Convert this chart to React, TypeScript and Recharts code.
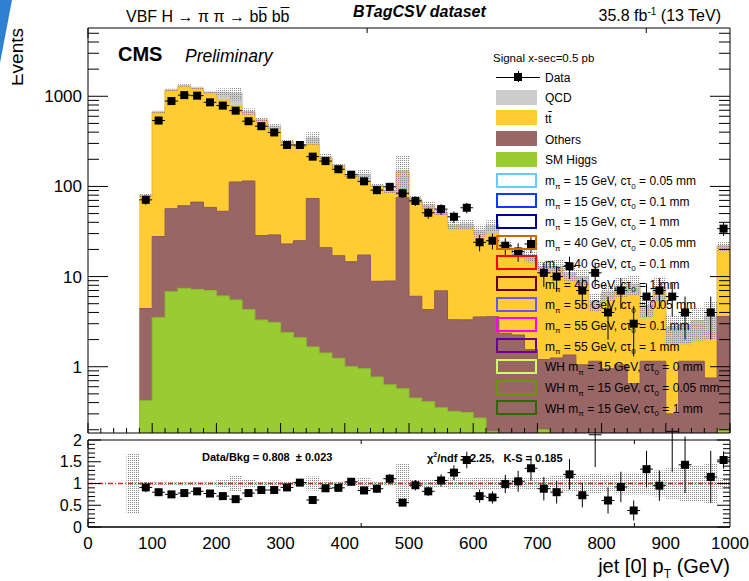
import React from 'react';
import { ComposedChart, Area, Scatter, XAxis, YAxis, ErrorBar, ReferenceLine } from 'recharts';

const FONT = '"Liberation Sans", Arial, Helvetica, sans-serif';

// jet[0] pT bins, low edge in GeV (20 GeV wide)
const binLow = [
  80, 100, 120, 140, 160, 180, 200, 220, 240, 260,
  280, 300, 320, 340, 360, 380, 400, 420, 440, 460,
  480, 500, 520, 540, 560, 580, 600, 620, 640, 660,
  680, 700, 720, 740, 760, 780, 800, 820, 840, 860,
  880, 900, 920, 940, 960, 980,
];

const dataCounts = [
  71, 538, 885, 1030, 1016, 857, 788, 693, 529, 466,
  397, 288, 288, 214, 191, 155, 135, 114, 91, 99,
  84, 69, 51, 56, 46, 58, 24, 25, 22, 19,
  23, 11, 10, 13, 7, 11, 4, 7, 3, 6,
  7, 6, 4, 0, 4, 34,
];
const dataErr = [
  8.4, 23, 30, 32, 32, 29, 28, 26, 23, 22,
  20, 17, 17, 15, 14, 12.5, 11.6, 10.7, 9.5, 9.9,
  9.2, 8.3, 7.1, 7.5, 6.8, 7.6, 4.9, 5, 4.7, 4.4,
  4.8, 3.3, 3.2, 3.6, 2.6, 3.3, 2, 2.6, 1.7, 2.4,
  2.6, 2.4, 2, 0, 2, 5.8,
];

// backgrounds, stacked bottom -> top
const higgs = [
  0.42, 3.5, 6.8, 7.4, 7.2, 7.0, 6.1, 5.5, 4.3, 3.3,
  3.1, 2.4, 2.1, 1.66, 1.42, 1.24, 1.0, 0.95, 0.77, 0.63,
  0.57, 0.45, 0.41, 0.35, 0.32, 0.31, 0.27, 0.19, 0.15, 0.15,
  0.15, 0.2, 0.15, 0.15, 0.15, 0.15, 0.15, 0.15, 0.15, 0.15,
  0.15, 0.15, 0.15, 0.15, 0.15, 0.2,
];
const others = [
  4.0, 24.3, 49.8, 53.6, 59.8, 51.5, 46.9, 106.5, 110.7, 25.2,
  25.9, 20.6, 22.9, 71.9, 19.5, 15.8, 13.6, 16.4, 8.1, 8.3,
  74.4, 5.6, 3.9, 6.6, 3.0, 3.0, 3.3, 3.4, 2.2, 2.1,
  1.4, 1.0, 1.1, 1.2, 0.9, 1.0, 0.8, 0.9, 0.5, 1.0,
  1.0, 0.15, 1.0, 1.0, 0.6, 3.4,
];
const ttbar = [
  74, 625, 1096, 1216, 1146, 1010, 855, 662, 538, 512,
  391, 285, 253, 218, 184, 146, 113, 95, 91, 78,
  70, 64, 54, 44, 33, 32, 26, 26, 18, 15,
  14, 11.3, 10.8, 8.7, 7.5, 3.7, 5.1, 5.5, 6.4, 3.1,
  5.4, 2.2, 1.5, 1.7, 1.6, 17.4,
];
const qcd = [
  1, 19, 27, 43, 26, 44, 202, 309, 25, 8,
  47, 8, 4, 53, 10, 9, 2, 24, 3, 2,
  4, 2, 4, 1, 1, 3, 3, 7, 2, 1,
  1.3, 0.5, 0.9, 0.9, 1.4, 0.4, 0.7, 1.3, 1.2, 0.5,
  1.1, 0.3, 0.3, 0.4, 1.3, 1,
];
// relative background uncertainty (hatched band)
const bkgUnc = [
  0.04, 0.03, 0.03, 0.03, 0.03, 0.03, 0.1, 0.17, 0.08, 0.06,
  0.07, 0.05, 0.05, 0.16, 0.07, 0.05, 0.04, 0.13, 0.06, 0.06,
  0.47, 0.08, 0.1, 0.08, 0.12, 0.12, 0.15, 0.15, 0.12, 0.12,
  0.15, 0.15, 0.18, 0.2, 0.2, 0.22, 0.2, 0.25, 0.25, 0.25,
  0.3, 0.35, 0.4, 0.4, 0.45, 0.12,
];
const bin60Unc = 0.7; // 60-80 GeV bin, only seen in the ratio pad

const ratio = [
  0.91, 0.80, 0.75, 0.78, 0.82, 0.77, 0.71, 0.64, 0.78, 0.85,
  0.85, 0.91, 1.02, 0.62, 0.89, 0.90, 1.04, 0.84, 0.88, 1.11,
  0.56, 0.96, 0.82, 1.07, 1.25, 1.54, 0.71, 0.68, 0.99, 1.05,
  1.35, 0.88, 0.80, 1.21, 0.73, 2.12, 0.61, 0.92, 0.38, 1.33,
  0.95, 2.2, 1.43, 0, 1.15, 1.54,
];
const ratioErr = [
  0.11, 0.035, 0.026, 0.025, 0.027, 0.027, 0.026, 0.025, 0.035, 0.04,
  0.044, 0.055, 0.06, 0.043, 0.065, 0.075, 0.09, 0.08, 0.095, 0.11,
  0.06, 0.12, 0.11, 0.14, 0.17, 0.19, 0.15, 0.14, 0.21, 0.24,
  0.29, 0.27, 0.26, 0.35, 0.28, 0.74, 0.3, 0.35, 0.23, 0.42,
  0.35, 0.93, 0.65, 0, 0.6, 0.2,
];

const xMajor = [0, 100, 200, 300, 400, 500, 600, 700, 800, 900, 1000];
const xMinor = [
  20, 40, 60, 80, 120, 140, 160, 180, 220, 240, 260, 280, 320, 340, 360, 380,
  420, 440, 460, 480, 520, 540, 560, 580, 620, 640, 660, 680, 720, 740, 760, 780,
  820, 840, 860, 880, 920, 940, 960, 980,
];
const yMajor = [1, 10, 100, 1000];
const yMinor = [
  0.2, 0.3, 0.4, 0.5, 0.6, 0.7, 0.8, 0.9, 2, 3, 4, 5, 6, 7, 8, 9,
  20, 30, 40, 50, 60, 70, 80, 90, 200, 300, 400, 500, 600, 700, 800, 900,
  2000, 3000, 4000, 5000,
];
const rMajor = [0, 0.5, 1, 1.5, 2];
const rMinor = [0.1, 0.2, 0.3, 0.4, 0.6, 0.7, 0.8, 0.9, 1.1, 1.2, 1.3, 1.4, 1.6, 1.7, 1.8, 1.9];

const YMIN = 0.184;
const YMAX = 5720;

// legend
const bkgNames = ['QCD', 'tt', 'Others', 'SM Higgs'];
const bkgColors = ['#cccccc', '#ffcc33', '#996666', '#99cc33'];
const signalMass = ['15', '15', '15', '40', '40', '40', '55', '55', '55', '15', '15', '15'];
const signalCtau = ['0.05', '0.1', '1', '0.05', '0.1', '1', '0.05', '0.1', '1', '0', '0.05', '1'];
const signalWH = [false, false, false, false, false, false, false, false, false, true, true, true];
const signalColors = [
  '#66ccff', '#0a3cff', '#000099', '#cc6600', '#ff0000', '#660000',
  '#6655ff', '#ff00ff', '#660099', '#ccff66', '#669900', '#336600',
];

const edges = [...binLow, 1000];
const stepRows = edges.map((x, k) => {
  const i = Math.min(k, binLow.length - 1);
  const h = higgs[i];
  const b = h + others[i];
  const t = b + ttbar[i];
  const q = t + qcd[i];
  return { x, higgsTop: h, brownTop: b, ttTop: t, total: q, band: [q * (1 - bkgUnc[i]), q * (1 + bkgUnc[i])] };
});
const ratioBand = [
  { x: 60, band: [1 - bin60Unc, 1 + bin60Unc] },
  ...edges.map((x, k) => {
    const i = Math.min(k, binLow.length - 1);
    return { x, band: [1 - bkgUnc[i], 1 + bkgUnc[i]] };
  }),
];
const dataPoints = binLow
  .map((lo, i) => ({ x: lo + 10, y: dataCounts[i], err: dataErr[i], xerr: 10 }))
  .filter((p) => p.y > 0);
const ratioPoints = binLow
  .map((lo, i) => ({ x: lo + 10, y: ratio[i], err: ratioErr[i], xerr: 10 }))
  .filter((p) => p.y > 0);

const xTicksAll = [...xMajor, ...xMinor].sort((a, b) => a - b);
const yTicksAll = [...yMajor, ...yMinor].sort((a, b) => a - b);
const rTicksAll = [...rMajor, ...rMinor].sort((a, b) => a - b);

const Square = (p: any) => <rect x={p.cx - 4} y={p.cy - 4} width={8} height={8} fill="#000" />;

type Side = 'top' | 'bottom' | 'left' | 'right';

// ROOT style inward ticks, drawn from the axis line into the frame
const makeTick = (side: Side, major: number[], long: number, short: number) => (p: any) => {
  const v = p.payload?.value;
  const len = major.includes(v) ? long : short;
  const x = p.x;
  const y = p.y;
  let x2 = x;
  let y2 = y;
  if (side === 'bottom') y2 = y - len;
  else if (side === 'top') y2 = y + len;
  else if (side === 'left') x2 = x + len;
  else x2 = x - len;
  return <line x1={x} y1={y} x2={x2} y2={y2} stroke="#000" strokeWidth={1} />;
};

const tickX = (id: string, side: Side, ticks: number[], major: number[], long: number, short: number, extra: any = {}) => (
  <XAxis
    key={id}
    xAxisId={id}
    type="number"
    domain={[0, 1000]}
    allowDataOverflow
    ticks={ticks}
    interval={0}
    orientation={side === 'top' ? 'top' : 'bottom'}
    mirror
    height={1}
    tickSize={0}
    tickMargin={0}
    tickLine={false}
    tick={makeTick(side, major, long, short)}
    axisLine={{ stroke: '#000' }}
    {...extra}
  />
);

const tickY = (id: string, side: Side, ticks: number[], major: number[], long: number, short: number, domain: number[], log: boolean) => (
  <YAxis
    key={id}
    yAxisId={id}
    type="number"
    scale={log ? 'log' : 'linear'}
    domain={domain}
    allowDataOverflow
    ticks={ticks}
    interval={0}
    orientation={side === 'right' ? 'right' : 'left'}
    mirror
    width={1}
    tickSize={0}
    tickMargin={0}
    tickLine={false}
    tick={makeTick(side, major, long, short)}
    axisLine={side === 'right' ? { stroke: '#000' } : false}
  />
);

type TxtProps = {
  x: number;
  y: number;
  size: number;
  anchor?: 'start' | 'end' | 'middle';
  bold?: boolean;
  italic?: boolean;
  children: React.ReactNode;
};

function Txt({ x, y, size, anchor = 'start', bold = false, italic = false, children }: TxtProps) {
  const shift = anchor === 'end' ? '-100%' : anchor === 'middle' ? '-50%' : '0';
  return (
    <div
      style={{
        position: 'absolute',
        left: x,
        top: y - size / 2,
        fontSize: size,
        lineHeight: `${size}px`,
        fontFamily: FONT,
        fontWeight: bold ? 700 : 400,
        fontStyle: italic ? 'italic' : 'normal',
        whiteSpace: 'pre',
        transform: `translateX(${shift})`,
        color: '#000',
      }}
    >
      {children}
    </div>
  );
}

const Sub = ({ children, size = 8 }: { children: React.ReactNode; size?: number }) => (
  <span style={{ fontSize: size, position: 'relative', top: size * 0.45 }}>{children}</span>
);
const Sup = ({ children, size = 10 }: { children: React.ReactNode; size?: number }) => (
  <span style={{ fontSize: size, position: 'relative', top: -size * 0.6 }}>{children}</span>
);
const Bar = ({ children }: { children: React.ReactNode }) => (
  <span style={{ textDecoration: 'overline' }}>{children}</span>
);

const rowY = (k: number) => 76.5 + 20.7 * k;

function Legend() {
  return (
    <>
      <Txt x={493} y={59} size={11.5}>Signal x-sec=0.5 pb</Txt>
      {/* data */}
      <div style={{ position: 'absolute', left: 496, top: rowY(0), width: 44, height: 1, background: '#000' }} />
      <div style={{ position: 'absolute', left: 518, top: rowY(0) - 5.5, width: 1, height: 11, background: '#000' }} />
      <div style={{ position: 'absolute', left: 514, top: rowY(0) - 4, width: 8, height: 8, background: '#000' }} />
      <Txt x={545} y={rowY(0) + 1} size={12}>Data</Txt>
      {bkgNames.map((n, i) => (
        <React.Fragment key={n}>
          <div style={{ position: 'absolute', left: 496, top: rowY(i + 1) - 7.5, width: 41, height: 15, background: bkgColors[i] }} />
          <Txt x={545} y={rowY(i + 1) + 1} size={12}>
            {n === 'tt' ? (
              <>
                t<Bar>t</Bar>
              </>
            ) : (
              n
            )}
          </Txt>
        </React.Fragment>
      ))}
      {signalColors.map((c, i) => (
        <React.Fragment key={i}>
          <div
            style={{
              position: 'absolute',
              left: 496,
              top: rowY(i + 5) - 7.5,
              width: 41,
              height: 15,
              boxSizing: 'border-box',
              border: `2px solid ${c}`,
            }}
          />
          <Txt x={545} y={rowY(i + 5) + 1} size={12}>
            {signalWH[i] ? 'WH ' : ''}m<Sub>π</Sub> = {signalMass[i]} GeV, cτ<Sub>0</Sub> = {signalCtau[i]} mm
          </Txt>
        </React.Fragment>
      ))}
    </>
  );
}

export default function App() {
  return (
    <div
      style={{
        position: 'absolute',
        left: 0,
        top: 0,
        width: 749,
        height: 581,
        background: '#fff',
        overflow: 'hidden',
        fontFamily: FONT,
      }}
    >
      <Txt x={126} y={16.5} size={16}>
        VBF H → π π → b<Bar>b</Bar> b<Bar>b</Bar>
      </Txt>
      <Txt x={353} y={12} size={16} bold italic>
        BTagCSV dataset
      </Txt>
      <Txt x={721} y={16} size={16} anchor="end">
        35.8 fb<Sup>-1</Sup> (13 TeV)
      </Txt>

      <div style={{ position: 'absolute', left: 0, top: 0 }}>
        <ComposedChart width={749} height={440} data={stepRows} margin={{ top: 28, right: 19, left: 0, bottom: 7 }}>
          <defs>
            <pattern id="hatchUp" width="2" height="2" patternUnits="userSpaceOnUse">
              <rect width="1" height="1" fill="#888888" />
            </pattern>
          </defs>
          {tickX('x', 'bottom', xTicksAll, xMajor, 10, 5, { dataKey: 'x' })}
          {tickX('xt', 'top', xTicksAll, xMajor, 10, 5)}
          <YAxis
            yAxisId="y"
            type="number"
            scale="log"
            domain={[YMIN, YMAX]}
            allowDataOverflow
            ticks={yMajor}
            interval={0}
            width={88}
            tickLine={false}
            tickSize={0}
            tickMargin={6}
            tick={{ fontSize: 17, fill: '#000', fontFamily: FONT }}
            axisLine={{ stroke: '#000' }}
          />
          {tickY('yl', 'left', yTicksAll, yMajor, 20, 11, [YMIN, YMAX], true)}
          {tickY('yr', 'right', yTicksAll, yMajor, 20, 11, [YMIN, YMAX], true)}

          <Area xAxisId="x" yAxisId="y" type="stepAfter" dataKey="total" baseValue={YMIN} fill="#cccccc" fillOpacity={1} stroke="#bdbdbd" strokeWidth={1} dot={false} activeDot={false} isAnimationActive={false} />
          <Area xAxisId="x" yAxisId="y" type="stepAfter" dataKey="ttTop" baseValue={YMIN} fill="#ffcc33" fillOpacity={1} stroke="#f2bd22" strokeWidth={1} dot={false} activeDot={false} isAnimationActive={false} />
          <Area xAxisId="x" yAxisId="y" type="stepAfter" dataKey="brownTop" baseValue={YMIN} fill="#996666" fillOpacity={1} stroke="#8c5a5a" strokeWidth={1} dot={false} activeDot={false} isAnimationActive={false} />
          <Area xAxisId="x" yAxisId="y" type="stepAfter" dataKey="higgsTop" baseValue={YMIN} fill="#99cc33" fillOpacity={1} stroke="#8cbc2c" strokeWidth={1} dot={false} activeDot={false} isAnimationActive={false} />
          <Area xAxisId="x" yAxisId="y" type="stepAfter" dataKey="band" fill="url(#hatchUp)" fillOpacity={1} stroke="none" dot={false} activeDot={false} isAnimationActive={false} />

          <Scatter xAxisId="x" yAxisId="y" data={dataPoints} dataKey="y" shape={Square} isAnimationActive={false}>
            <ErrorBar dataKey="xerr" direction="x" width={0} stroke="#000" strokeWidth={1} />
            <ErrorBar dataKey="err" direction="y" width={0} stroke="#000" strokeWidth={1} />
          </Scatter>
        </ComposedChart>
      </div>

      <div style={{ position: 'absolute', left: 0, top: 428 }}>
        <ComposedChart width={749} height={153} data={ratioBand} margin={{ top: 12, right: 19, left: 0, bottom: 0 }}>
          <defs>
            <pattern id="hatchLo" width="2" height="2" patternUnits="userSpaceOnUse">
              <rect width="1" height="1" fill="#888888" />
            </pattern>
          </defs>
          <XAxis
            xAxisId="x"
            dataKey="x"
            type="number"
            domain={[0, 1000]}
            allowDataOverflow
            ticks={xMajor}
            interval={0}
            height={54}
            tickLine={false}
            tickSize={0}
            tickMargin={10}
            tick={{ fontSize: 17, fill: '#000', fontFamily: FONT }}
            axisLine={{ stroke: '#000' }}
          />
          {tickX('xb', 'bottom', xTicksAll, xMajor, 8, 4)}
          {tickX('xt', 'top', xTicksAll, xMajor, 8, 4)}
          <YAxis
            yAxisId="y"
            type="number"
            domain={[0, 2]}
            allowDataOverflow
            ticks={rMajor}
            interval={0}
            width={88}
            tickLine={false}
            tickSize={0}
            tickMargin={6}
            tick={{ fontSize: 16, fill: '#000', fontFamily: FONT }}
            axisLine={{ stroke: '#000' }}
          />
          {tickY('yl', 'left', rTicksAll, rMajor, 13, 7, [0, 2], false)}
          {tickY('yr', 'right', rTicksAll, rMajor, 13, 7, [0, 2], false)}

          <Area xAxisId="x" yAxisId="y" type="stepAfter" dataKey="band" fill="url(#hatchLo)" fillOpacity={1} stroke="none" dot={false} activeDot={false} isAnimationActive={false} />
          <ReferenceLine xAxisId="x" yAxisId="y" y={1} stroke="#e8201a" strokeWidth={1.5} strokeDasharray="5 2 1 2" />
          <Scatter xAxisId="x" yAxisId="y" data={ratioPoints} dataKey="y" shape={Square} isAnimationActive={false}>
            <ErrorBar dataKey="xerr" direction="x" width={0} stroke="#000" strokeWidth={1} />
            <ErrorBar dataKey="err" direction="y" width={0} stroke="#000" strokeWidth={1} />
          </Scatter>
        </ComposedChart>
      </div>

      <Txt x={118} y={53.7} size={20} bold>
        CMS
      </Txt>
      <Txt x={185} y={56.5} size={17.5} italic>
        Preliminary
      </Txt>
      <Legend />

      <Txt x={202} y={457.5} size={11} bold>
        Data/Bkg = 0.808  ± 0.023
      </Txt>
      <Txt x={427} y={458} size={11} bold>
        χ<Sup size={7}>2</Sup>/ndf = 2.25,   K-S = 0.185
      </Txt>
      <Txt x={730} y={566} size={20} anchor="end">
        jet [0] p<Sub size={12}>T</Sub> (GeV)
      </Txt>

      <svg width={749} height={581} style={{ position: 'absolute', left: 0, top: 0, pointerEvents: 'none' }}>
        <defs>
          <clipPath id="evClip">
            <rect x={12} y={0} width={40} height={120} />
          </clipPath>
        </defs>
        <polygon points="0,0 12,0 0,63" fill="#2f80d0" />
        <g clipPath="url(#evClip)">
          <text x={23} y={28} transform="rotate(-90 23 28)" textAnchor="end" fontSize={19} fontFamily={FONT} fill="#000">
            Events
          </text>
        </g>
      </svg>
    </div>
  );
}
